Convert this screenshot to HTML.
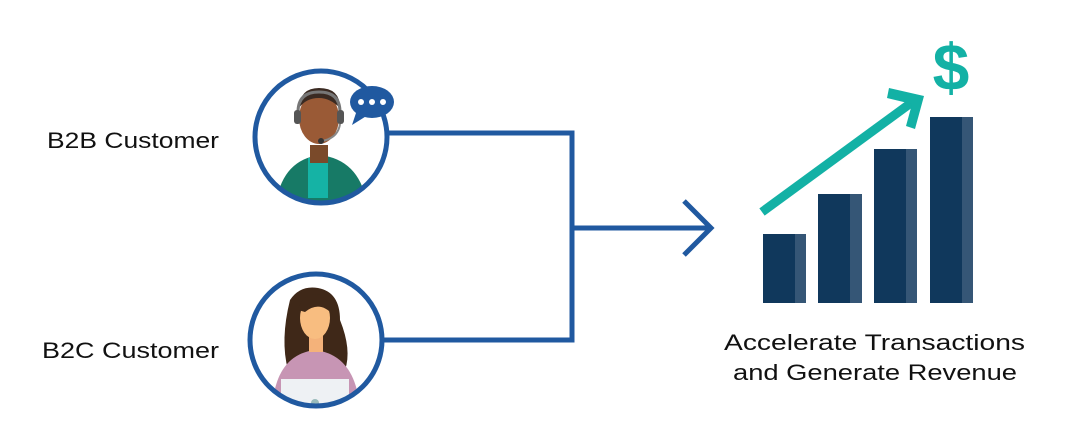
<!DOCTYPE html>
<html><head><style>
html,body{margin:0;padding:0;background:#fff;width:1070px;height:441px;overflow:hidden}
svg{display:block}
text{font-family:"Liberation Sans",sans-serif;fill:#111}
</style></head><body>
<svg width="1070" height="441" viewBox="0 0 1070 441">
<defs>
<clipPath id="c1"><circle cx="321" cy="137" r="64"/></clipPath>
<clipPath id="c2"><circle cx="316" cy="340" r="64"/></clipPath>
</defs>
<text x="47" y="148" font-size="22" textLength="172" lengthAdjust="spacingAndGlyphs">B2B Customer</text>
<text x="42" y="358" font-size="22" textLength="177" lengthAdjust="spacingAndGlyphs">B2C Customer</text>
<text x="724" y="350" font-size="22" textLength="301" lengthAdjust="spacingAndGlyphs">Accelerate Transactions</text>
<text x="733" y="380" font-size="22" textLength="284" lengthAdjust="spacingAndGlyphs">and Generate Revenue</text>
<!-- connectors -->
<g fill="none" stroke="#2059a0" stroke-width="5">
<polyline points="389,133 572,133 572,340 384,340"/>
<line x1="572" y1="228" x2="710" y2="228"/>
<polyline points="684,201 711,228 684,255" stroke-linejoin="miter"/>
</g>
<!-- B2B person -->
<g clip-path="url(#c1)">
<path d="M275 210 Q280 160 320 155 Q362 160 368 210Z" fill="#177a66"/>
<rect x="308" y="158" width="20" height="40" fill="#15b3a5"/>
<rect x="310" y="145" width="18" height="18" fill="#7a4a2a"/>
<ellipse cx="319" cy="118" rx="20" ry="26" fill="#9a5a36"/>
<path d="M299 108 Q300 88 319 88 Q340 88 340 108 Q330 98 319 98 Q306 98 299 108Z" fill="#3a2a22"/>
<path d="M298 112 Q298 92 319 92 Q340 92 340 112" fill="none" stroke="#777" stroke-width="3"/>
<rect x="294" y="110" width="7" height="14" rx="3" fill="#555"/>
<rect x="337" y="110" width="7" height="14" rx="3" fill="#555"/>
<path d="M340 124 Q338 138 322 141" stroke="#888" stroke-width="2" fill="none"/>
<circle cx="321" cy="141" r="3" fill="#333"/>
</g>
<circle cx="321" cy="137" r="66" fill="none" stroke="#2059a0" stroke-width="5"/>
<ellipse cx="372" cy="102" rx="22" ry="16" fill="#2059a0"/>
<path d="M357 110 L352 125 L368 115Z" fill="#2059a0"/>
<circle cx="361" cy="102" r="3" fill="#fff"/><circle cx="372" cy="102" r="3" fill="#fff"/><circle cx="383" cy="102" r="3" fill="#fff"/>
<!-- B2C person -->
<g clip-path="url(#c2)">
<path d="M290 300 Q300 285 318 288 Q340 292 340 320 Q352 350 345 370 L288 370 Q280 340 290 300Z" fill="#3f2818"/>
<path d="M272 410 Q275 355 315 350 Q356 355 360 410Z" fill="#c795b4"/>
<rect x="309" y="332" width="14" height="20" fill="#f4b27a"/>
<ellipse cx="315" cy="318" rx="15" ry="21" fill="#f8bd80"/>
<path d="M298 310 Q302 292 320 295 Q330 300 333 315 Q320 300 305 312Z" fill="#3f2818"/>
<rect x="281" y="379" width="68" height="30" fill="#eef1f4"/>
<circle cx="315" cy="403" r="4" fill="#9bb"/>
</g>
<circle cx="316" cy="340" r="66" fill="none" stroke="#2059a0" stroke-width="5"/>
<!-- bars -->
<rect x="763" y="234" width="43" height="69" fill="#10385c"/><rect x="795" y="234" width="11" height="69" fill="#355676"/>
<rect x="818" y="194" width="44" height="109" fill="#10385c"/><rect x="850" y="194" width="12" height="109" fill="#355676"/>
<rect x="874" y="149" width="43" height="154" fill="#10385c"/><rect x="906" y="149" width="11" height="154" fill="#355676"/>
<rect x="930" y="117" width="43" height="186" fill="#10385c"/><rect x="962" y="117" width="11" height="186" fill="#355676"/>
<!-- arrow -->
<line x1="762" y1="212" x2="915" y2="100" stroke="#13b1a5" stroke-width="9"/>
<polygon points="889,88 924,96 915,129 906,126 912,104 887,98" fill="#13b1a5"/>
<text x="951" y="90" font-size="66" font-weight="bold" text-anchor="middle" style="fill:#13b1a5">$</text>
</svg>
</body></html>
